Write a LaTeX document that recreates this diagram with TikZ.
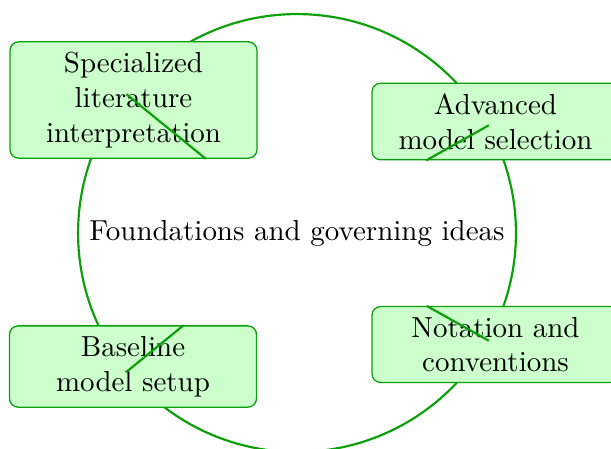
\documentclass[tikz,border=0pt]{standalone}
\usetikzlibrary{shapes.geometric}
\definecolor{cgreen}{RGB}{10,160,10}
\tikzset{
  hub/.style={circle, draw=cgreen, line width=0.75pt, minimum size=151.2pt, inner sep=0pt},
  topic/.style={rectangle, rounded corners=3pt, draw=cgreen, line width=0.45pt, fill=green!20,
    text width=78pt, align=center, inner xsep=3.65pt, inner ysep=3.6pt},
  link/.style={draw=cgreen, line width=0.75pt}
}
\begin{document}
\begin{tikzpicture}[x=0.3453pt,y=-0.3453pt]
\useasboundingbox (0,0) rectangle (611,448);
\node[hub] (c) at (297,233) {Foundations and governing ideas};
\node[topic] (n1) at (133.5,100) {Specialized\\literature\\interpretation};
\node[topic] (n2) at (495.5,121.5) {Advanced\\model selection};
\node[topic] (n3) at (133,366.5) {Baseline\\model setup};
\node[topic] (n4) at (495.5,344.5) {Notation and\\conventions};
\draw[link] (c) -- (n1);
\draw[link] (c) -- (n2);
\draw[link] (c) -- (n3);
\draw[link] (c) -- (n4);
\end{tikzpicture}
\end{document}
